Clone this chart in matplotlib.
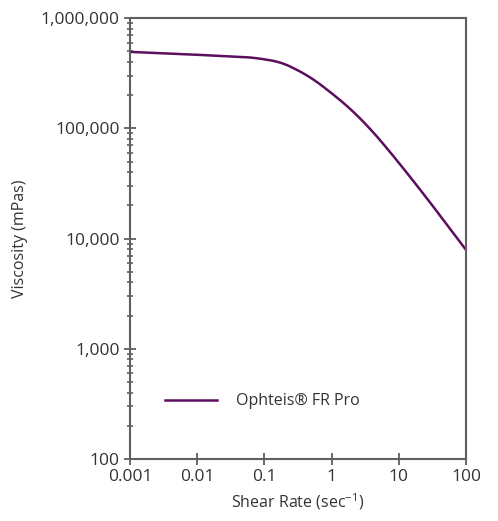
import numpy as np
import matplotlib
matplotlib.use('Agg')
from matplotlib import pyplot as plt
from matplotlib.ticker import FixedLocator, LogLocator, NullFormatter, FuncFormatter

# values
shear = [0.001, 0.007, 0.068, 0.17, 0.24, 0.477, 0.946, 1.88, 3.73, 7.4, 14.7, 27.5, 100]
visc = [495000, 471000, 440000, 402000, 367000, 294000, 215000, 152000, 99800, 61200, 36300, 22300, 7870]
x_ticks = [0.001, 0.01, 0.1, 1, 10, 100]
x_labels = ['0.001', '0.01', '0.1', '1', '10', '100']
y_ticks = [100, 1000, 10000, 100000, 1000000]
label = 'Ophteis® FR Pro'

plt.rcParams['font.family'] = ['Open Sans', 'DejaVu Sans']

def main():
	grey = '#5f5f5f'
	txt = '#333333'
	fig = plt.figure(figsize=(4.98, 5.21), dpi=100)
	ax = fig.add_axes([0.261, 0.119, 0.675, 0.846])

	# smooth the read points in log space
	lx = np.log10(shear)
	ly = np.log10(visc)
	xs = np.linspace(lx[0], lx[-1], 400)
	ys = np.interp(xs, lx, ly)
	k = 12
	ys = np.convolve(np.pad(ys, k, mode='reflect', reflect_type='odd'), np.ones(2*k+1)/(2*k+1), mode='same')[k:-k]
	ax.plot(10**xs, 10**ys, color='#5c0f5e', lw=1.8, label=label)

	ax.set_xscale('log')
	ax.set_yscale('log')
	ax.set_xlim(0.001, 100)
	ax.set_ylim(100, 1000000)

	ax.xaxis.set_major_locator(FixedLocator(x_ticks))
	ax.set_xticklabels(x_labels)
	ax.xaxis.set_minor_locator(FixedLocator([]))
	ax.yaxis.set_major_locator(FixedLocator(y_ticks))
	ax.yaxis.set_major_formatter(FuncFormatter(lambda v, p: '{:,}'.format(int(round(v)))))
	ax.yaxis.set_minor_locator(LogLocator(base=10, subs=np.arange(2, 10)))
	ax.yaxis.set_minor_formatter(NullFormatter())

	for s in ax.spines.values():
		s.set_color(grey)
		s.set_linewidth(1.5)
	ax.tick_params(axis='both', which='major', direction='inout', length=9, width=1.3,
				   color=grey, labelsize=12.5, labelcolor=txt, pad=3)
	ax.tick_params(axis='y', which='minor', direction='inout', length=4, width=1.2, color=grey)

	ax.set_xlabel('Shear Rate (sec$^{\\mathregular{-1}}$)', fontsize=11.5, color=txt, labelpad=4)
	ax.set_ylabel('Viscosity (mPas)', fontsize=11.5, color=txt, labelpad=9)

	ax.legend(loc='lower left', bbox_to_anchor=(0.06, 0.08), frameon=False, fontsize=11.5,
			  handlelength=3.3, labelcolor=txt, handletextpad=1.2)

	fig.savefig('out.png', dpi=100)
	return 0


if __name__ == '__main__':
	main()
